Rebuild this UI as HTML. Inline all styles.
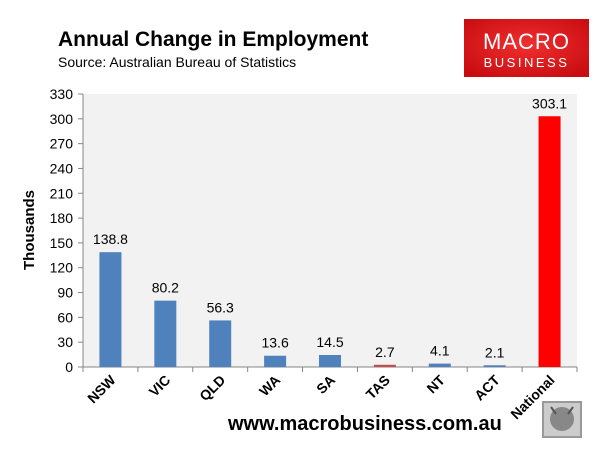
<!DOCTYPE html>
<html><head><meta charset="utf-8"><style>
body{margin:0;background:#fff;width:610px;height:459px;overflow:hidden;font-family:"Liberation Sans",sans-serif;}
</style></head><body>
<svg width="610" height="459" xmlns="http://www.w3.org/2000/svg">
<text x="58" y="46" font-size="21" font-weight="bold" fill="#000">Annual Change in Employment</text>
<text x="58" y="67" font-size="14" fill="#000">Source: Australian Bureau of Statistics</text>
<g>
<defs><radialGradient id="lg" cx="50%" cy="45%" r="65%"><stop offset="0" stop-color="#f03030"/><stop offset="1" stop-color="#c80c10"/></radialGradient></defs>
<rect x="464" y="19" width="125" height="58" fill="url(#lg)"/>
<text x="526.5" y="49" font-size="22" fill="#fff" text-anchor="middle" letter-spacing="1">MACRO</text>
<text x="526.5" y="67" font-size="13" fill="#fff" text-anchor="middle" letter-spacing="2.5">BUSINESS</text>
</g>
<rect x="83" y="94" width="494" height="273" fill="#f2f2f2"/>
<g id="axes"></g>
<g id="bars"></g>
<text transform="translate(34,230) rotate(-90)" font-size="15" font-weight="bold" text-anchor="middle">Thousands</text>
<text x="228" y="430" font-size="20" font-weight="bold">www.macrobusiness.com.au</text>
<g>
<rect x="543" y="402" width="38" height="35" fill="#ccc" stroke="#999" stroke-width="2"/>
<circle cx="562" cy="419" r="12" fill="#888"/>
<path d="M551 407 L556 414 M573 407 L568 414" stroke="#555" stroke-width="2"/>
</g>
</svg>
<script>
const categories=["NSW","VIC","QLD","WA","SA","TAS","NT","ACT","National"];
const values=[138.8,80.2,56.3,13.6,14.5,2.7,4.1,2.1,303.1];
const valueLabels=["138.8","80.2","56.3","13.6","14.5","2.7","4.1","2.1","303.1"];
const barColors=["#4f81bd","#4f81bd","#4f81bd","#4f81bd","#4f81bd","#c0504d","#4f81bd","#4f81bd","#ff0000"];
const yTicks=[0,30,60,90,120,150,180,210,240,270,300,330];
const NS="http://www.w3.org/2000/svg";
const x0=83,x1=577,yB=367,yT=94,yMax=330;
const band=(x1-x0)/categories.length;
const y=v=>yB-(v/yMax)*(yB-yT);
const xc=i=>x0+band*(i+0.5);
function mk(t,a,p){const e=document.createElementNS(NS,t);for(const k in a)e.setAttribute(k,a[k]);p.appendChild(e);return e;}
const ax=document.getElementById('axes'),bs=document.getElementById('bars');
const yl=mk('line',{x1:x0,y1:yT,x2:x0,y2:yB,stroke:'#868686'},ax);


const xl=mk('line',{x1:x0,y1:yB,x2:x1,y2:yB,stroke:'#868686'},ax);


yTicks.forEach(v=>{
 mk('line',{x1:x0-5,y1:y(v),x2:x0,y2:y(v),stroke:'#868686'},ax);
 const t=mk('text',{x:x0-10,y:y(v)+5,'font-size':14,'text-anchor':'end'},ax);
 t.textContent=v;
 
 
});
for(let i=0;i<=categories.length;i++){mk('line',{x1:x0+band*i,y1:yB,x2:x0+band*i,y2:yB+5,stroke:'#868686'},ax);}
categories.forEach((c,i)=>{
 const w=22,h=yB-y(values[i]);
 const r=mk('rect',{x:xc(i)-w/2,y:y(values[i]),width:w,height:h,fill:barColors[i]},bs);
 
 
 const vl=mk('text',{x:xc(i),y:y(values[i])-8,'font-size':14,'text-anchor':'middle'},bs);
 vl.textContent=valueLabels[i];
 
 
 const cx=xc(i)+6,cy=yB+14;
 const cl=mk('text',{x:cx,y:cy,'font-size':14,'font-weight':'bold','text-anchor':'end',transform:`rotate(-45 ${cx} ${cy})`},bs);
 cl.textContent=c;
 
 
});
</script>
</body></html>
